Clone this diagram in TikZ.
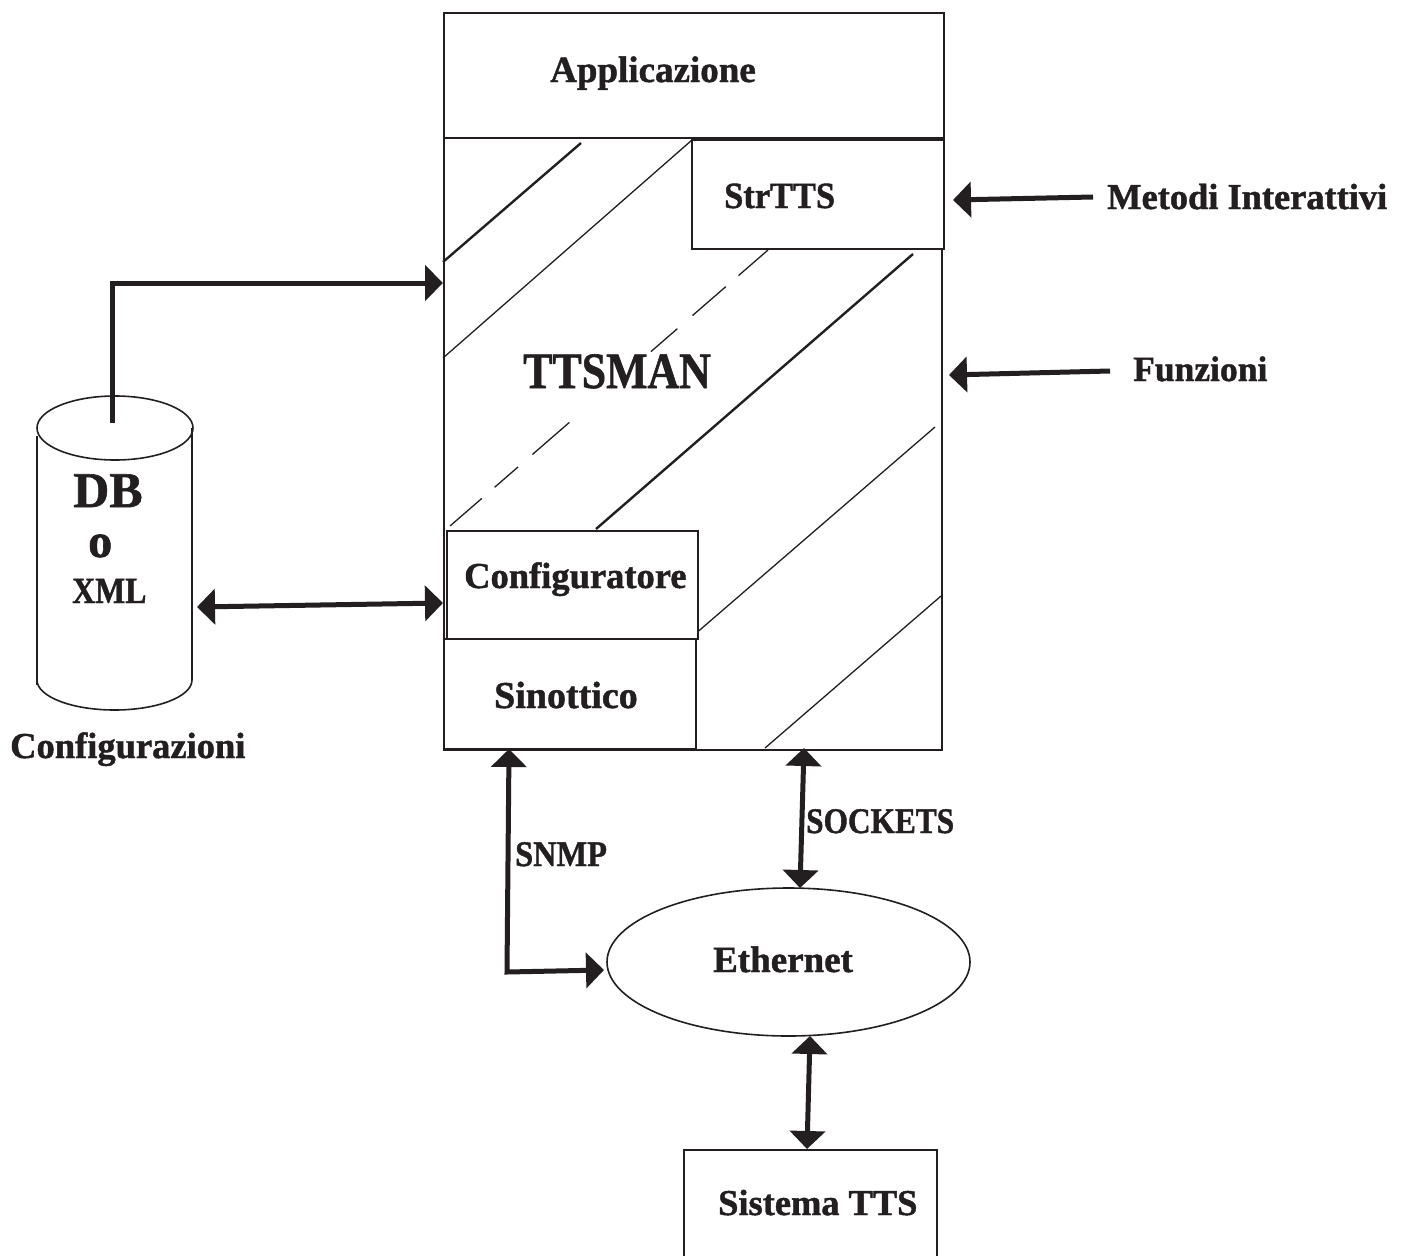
\documentclass[tikz,border=0pt]{standalone}
\usepackage{fontspec}
\setmainfont{Liberation Serif}[BoldFeatures={FakeBold=1.2}]
\usepackage{graphicx}
\usetikzlibrary{arrows.meta,shapes.geometric}
\definecolor{ink}{HTML}{231F20}
\newcommand{\fsz}[1]{\bfseries\fontsize{#1}{#1}\selectfont}
\begin{document}
\begin{tikzpicture}[x=1pt,y=-1pt,
  lbl/.style={text=ink, inner sep=0pt, anchor=base west},
  box/.style={draw=ink, line width=1.6pt, fill=white, inner sep=0pt, anchor=north west, rectangle},
  conn/.style={draw=ink, line width=5pt, line join=miter},
  tipe/.style={-{Triangle[length=18pt,width=35pt]}},
  tipb/.style={{Triangle[length=18pt,width=35pt]}-{Triangle[length=18pt,width=35pt]}},
  hatch/.style={draw=ink, line width=1.3pt},
  hatchb/.style={draw=ink, line width=2.4pt},
  ]
\useasboundingbox (0,0) rectangle (1407,1255);
\fill[white] (0,0) rectangle (1407,1255);

% main region
\node[box, fill=none, minimum width=498pt, minimum height=612pt] (core) at (443,137) {};
% hatch lines
\draw[hatchb] (443,262) -- (581,143);
\draw[hatch] (443,358) -- (692,140);
\draw[hatch, dash pattern={on 39pt off 17pt on 44pt off 20pt on 35pt off 108pt on 49pt off 19pt on 31pt off 17pt on 42pt off 10pt}] (768,250) -- (450,526);
\draw[hatchb] (913,254) -- (596,529);
\draw[hatch] (935,427) -- (694,635);
\draw[hatch] (941,596) -- (765,748);

% boxes
\node[box, minimum width=500pt, minimum height=125pt] (app) at (443,12) {};
\node[box, minimum width=252pt, minimum height=109pt] (strtts) at (691,139) {};
\node[box, minimum width=251pt, minimum height=108pt] (conf) at (446,530) {};
\node[box, minimum width=252pt, minimum height=110pt] (sin) at (443,638) {};
\node[box, minimum width=253pt, minimum height=130pt] (sys) at (683,1149) {};
\node[draw=ink, line width=1.6pt, ellipse, minimum width=363pt, minimum height=148pt, inner sep=0pt] (eth) at (788.5,962) {};

% labels
\node[lbl, font=\fsz{37}] (tApp) at (550,82) {Applicazione};
\node[lbl, font=\fsz{37}] (tStr) at (724,208) {\scalebox{0.93}[1]{StrTTS}};
\node[lbl, font=\fsz{51}] (tTTS) at (523,388) {\scalebox{0.86}[1]{TTSMAN}};
\node[lbl, font=\fsz{36.5}] (tConf) at (464,588) {Configuratore};
\node[lbl, font=\fsz{38}] (tSin) at (494,708) {Sinottico};
\node[lbl, font=\fsz{36.4}] (tMet) at (1107,209) {Metodi Interattivi};
\node[lbl, font=\fsz{35.5}] (tFun) at (1133,381) {Funzioni};
\node[lbl, font=\fsz{37}] (tEth) at (713,972) {Ethernet};
\node[lbl, font=\fsz{36.4}] (tSys) at (718,1215) {Sistema TTS};
\node[lbl, font=\fsz{36}] (tSock) at (806,833) {\scalebox{0.87}[1]{SOCKETS}};
\node[lbl, font=\fsz{36}] (tSnmp) at (515,866) {\scalebox{0.9}[1]{SNMP}};
\node[lbl, font=\fsz{36.5}] (tCfgz) at (10,758) {Configurazioni};

% cylinder
\draw[ink, line width=1.6pt] (115,428) ellipse [x radius=78, y radius=32];
\draw[ink, line width=2.6pt] (37,436) -- (37,685);
\draw[ink, line width=2.6pt] (192,428) -- (192,680);
\draw[ink, line width=1.6pt] (37,680) arc [start angle=180, end angle=0, x radius=77.5, y radius=30];
\node[inner sep=0pt, minimum width=156pt, minimum height=316pt] (db) at (114.5,553) {};
\node[lbl, font=\fsz{50}] (tDB) at (73,507) {DB};
\node[lbl, font=\fsz{48}] (tO) at (88,557) {o};
\node[lbl, font=\fsz{37}] (tXML) at (72,603) {\scalebox{0.86}[1]{XML}};

% connector end points
\coordinate (dbTop) at (112,423);
\coordinate (dbBend) at (112,283);
\coordinate (coreIn) at (443,283);
\coordinate (dbSide) at (197,607);
\coordinate (confIn) at (443,603);
\coordinate (metFrom) at (1093,197);
\coordinate (metTo) at (953,200);
\coordinate (funFrom) at (1110,371);
\coordinate (funTo) at (949,375);
\coordinate (sinOut) at (509,749);
\coordinate (snmpBend) at (507,972);
\coordinate (ethW) at (604,970);
\coordinate (coreOut) at (804,748);
\coordinate (ethN) at (800,888);
\coordinate (ethS) at (810,1036);
\coordinate (sysN) at (807,1149);

% connectors
\draw[conn, tipe] (dbTop) -- (dbBend) -- (coreIn);
\draw[conn, tipb] (dbSide) -- (confIn);
\draw[conn, tipe] (metFrom) -- (metTo);
\draw[conn, tipe] (funFrom) -- (funTo);
\draw[conn, tipb] (sinOut) -- (snmpBend) -- (ethW);
\draw[conn, tipb] (coreOut) -- (ethN);
\draw[conn, tipb] (ethS) -- (sysN);
\end{tikzpicture}
\end{document}
